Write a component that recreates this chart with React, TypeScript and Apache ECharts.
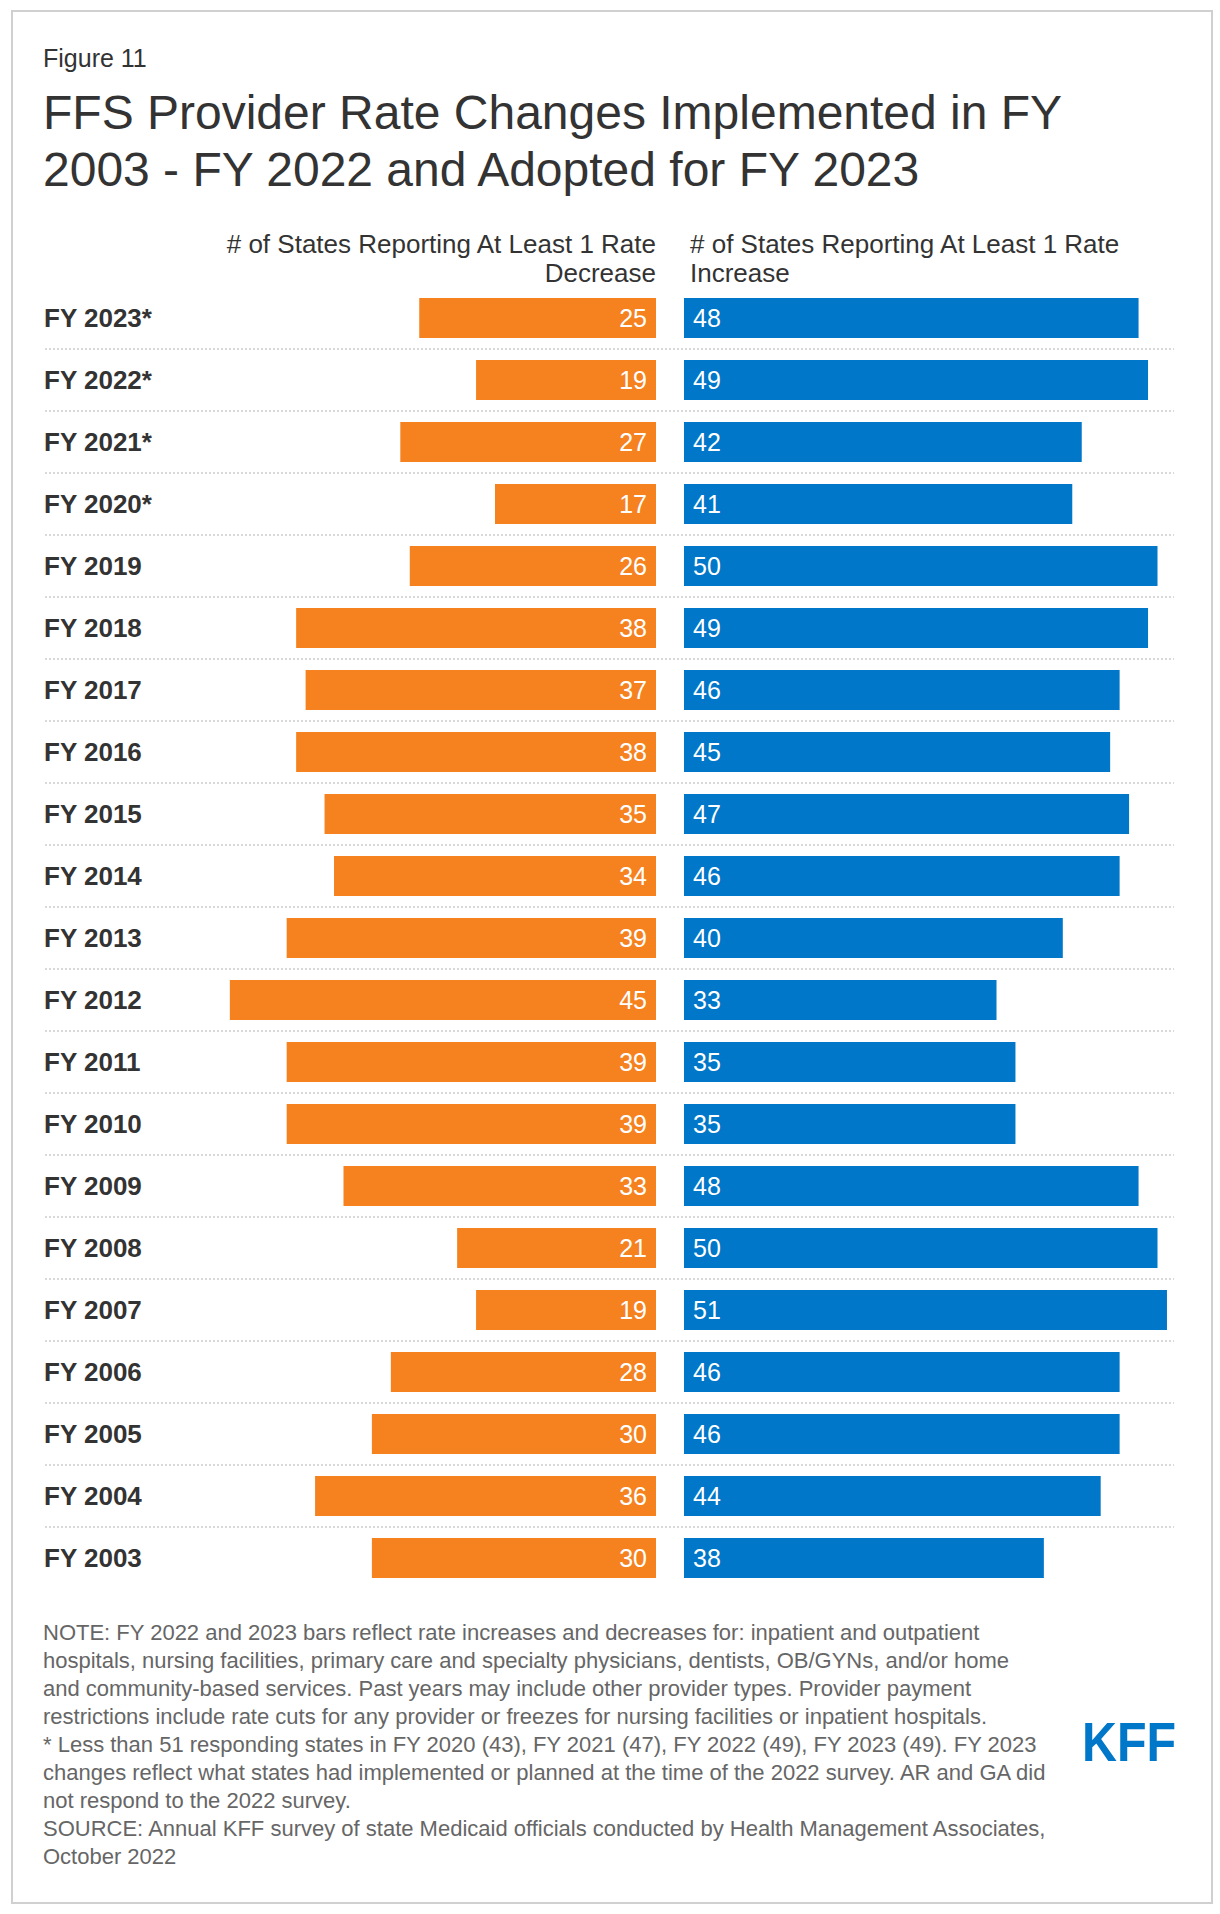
import React, { useEffect, useRef } from "react";
import * as echarts from "echarts";

const years = [
  "FY 2023*", "FY 2022*", "FY 2021*", "FY 2020*", "FY 2019", "FY 2018", "FY 2017",
  "FY 2016", "FY 2015", "FY 2014", "FY 2013", "FY 2012", "FY 2011", "FY 2010",
  "FY 2009", "FY 2008", "FY 2007", "FY 2006", "FY 2005", "FY 2004", "FY 2003",
];
const decreases = [25, 19, 27, 17, 26, 38, 37, 38, 35, 34, 39, 45, 39, 39, 33, 21, 19, 28, 30, 36, 30];
const increases = [48, 49, 42, 41, 50, 49, 46, 45, 47, 46, 40, 33, 35, 35, 48, 50, 51, 46, 46, 44, 38];

const titleLines = ["FFS Provider Rate Changes Implemented in FY", "2003 - FY 2022 and Adopted for FY 2023"];
const decreaseHeader = "# of States Reporting At Least 1 Rate\nDecrease";
const increaseHeader = "# of States Reporting At Least 1 Rate\nIncrease";
const noteLines = [
  "NOTE: FY 2022 and 2023 bars reflect rate increases and decreases for: inpatient and outpatient",
  "hospitals, nursing facilities, primary care and specialty physicians, dentists, OB/GYNs, and/or home",
  "and community-based services. Past years may include other provider types. Provider payment",
  "restrictions include rate cuts for any provider or freezes for nursing facilities or inpatient hospitals.",
  "* Less than 51 responding states in FY 2020 (43), FY 2021 (47), FY 2022 (49), FY 2023 (49). FY 2023",
  "changes reflect what states had implemented or planned at the time of the 2022 survey. AR and GA did",
  "not respond to the 2022 survey.",
  "SOURCE: Annual KFF survey of state Medicaid officials conducted by Health Management Associates,",
  "October 2022",
];

const FONT = "'Liberation Sans', Arial, Helvetica, sans-serif";
const ORANGE = "#F5821F";
const BLUE = "#0077C8";

export default function App() {
  const ref = useRef<HTMLDivElement>(null);
  useEffect(() => {
    if (!ref.current) return;
    const chart = echarts.init(ref.current, null, { renderer: "svg" });
    const unit = 9.47;
    const axisMax = 52;
    const gw = axisMax * unit;
    const centerL = 656;
    const centerR = 684;
    const leftGridLeft = centerL - gw;
    const option: any = {
      animation: false,
      backgroundColor: "#fff",
      grid: [
        { left: leftGridLeft, width: gw, top: 287, height: 1302 },
        { left: centerR, width: gw, top: 287, height: 1302 },
        { left: 45, width: 1129, top: 349, height: 1178 },
      ],
      xAxis: [
        { gridIndex: 0, type: "value", min: 0, max: axisMax, inverse: true, show: false },
        { gridIndex: 1, type: "value", min: 0, max: axisMax, show: false },
        { gridIndex: 2, type: "value", min: 0, max: 1, show: false },
      ],
      yAxis: [
        {
          gridIndex: 0, type: "category", data: years, inverse: true, position: "left",
          axisLine: { show: false, onZero: false }, axisTick: { show: false }, splitLine: { show: false },
          axisLabel: {
            align: "left", margin: leftGridLeft - 44, fontWeight: "bold", fontSize: 26,
            color: "#333333", fontFamily: FONT,
          },
        },
        { gridIndex: 1, type: "category", data: years, inverse: true, show: false },
        {
          gridIndex: 2, type: "value", min: 1, max: 20, interval: 1, inverse: true,
          axisLabel: { show: false }, axisLine: { show: false }, axisTick: { show: false },
          splitLine: { show: true, lineStyle: { type: [2, 2], color: "#d9d9d9", width: 2 } },
        },
      ],
      series: [
        {
          type: "bar", xAxisIndex: 0, yAxisIndex: 0, data: decreases, barWidth: 40,
          itemStyle: { color: ORANGE },
          label: { show: true, position: "insideRight", distance: 9, color: "#fff", fontSize: 25, fontFamily: FONT },
        },
        {
          type: "bar", xAxisIndex: 1, yAxisIndex: 1, data: increases, barWidth: 40,
          itemStyle: { color: BLUE },
          label: { show: true, position: "insideLeft", distance: 9, color: "#fff", fontSize: 25, fontFamily: FONT },
        },
        { type: "scatter", xAxisIndex: 2, yAxisIndex: 2, data: [], silent: true },
      ],
      graphic: [
        {
          type: "rect", z: -10, shape: { x: 12, y: 11, width: 1200, height: 1892 },
          style: { fill: "#fff", stroke: "#d0d0d0", lineWidth: 2 },
        },
        {
          type: "text", x: 43, y: 58,
          style: { text: "Figure 11", fontSize: 25, fontFamily: FONT, fill: "#333333", textVerticalAlign: "middle" },
        },
        {
          type: "text", x: 43, y: 112,
          style: { text: titleLines[0], fontSize: 48, fontFamily: FONT, fill: "#333333", textVerticalAlign: "middle" },
        },
        {
          type: "text", x: 43, y: 169,
          style: { text: titleLines[1], fontSize: 48, fontFamily: FONT, fill: "#333333", textVerticalAlign: "middle" },
        },
        {
          type: "text", x: centerL, y: 229,
          style: {
            text: decreaseHeader, fontSize: 26, lineHeight: 29, fontFamily: FONT, fill: "#333333",
            textAlign: "right", textVerticalAlign: "top",
          },
        },
        {
          type: "text", x: 690, y: 229,
          style: {
            text: increaseHeader, fontSize: 26, lineHeight: 29, fontFamily: FONT, fill: "#333333",
            textAlign: "left", textVerticalAlign: "top",
          },
        },
        {
          type: "text", x: 43, y: 1618,
          style: {
            text: noteLines.join("\n"), fontSize: 22, lineHeight: 28.1, fontFamily: FONT, fill: "#666666",
            textVerticalAlign: "top",
          },
        },
        {
          type: "text", x: 1082, y: 1742, scaleX: 0.865, originX: 0, originY: 0,
          style: {
            text: "KFF", fontSize: 56, fontWeight: "bold", fontFamily: FONT, fill: BLUE,
            textVerticalAlign: "middle",
          },
        },
      ],
    };
    chart.setOption(option);
    return () => chart.dispose();
  }, []);
  return (
    <div
      ref={ref}
      style={{ position: "absolute", left: 0, top: 0, width: 1220, height: 1914, background: "#fff" }}
    />
  );
}
